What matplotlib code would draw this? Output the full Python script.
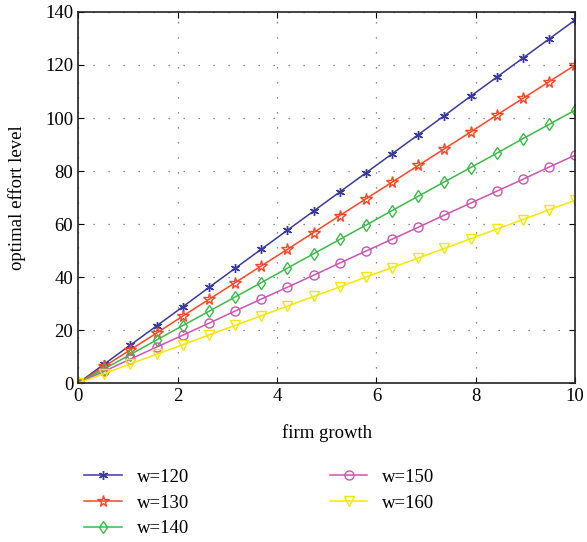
import matplotlib
matplotlib.use("Agg")
import matplotlib.pyplot as plt

x = [0, 0.526, 1.053, 1.579, 2.105, 2.632, 3.158, 3.684, 4.211, 4.737,
     5.263, 5.789, 6.316, 6.842, 7.368, 7.895, 8.421, 8.947, 9.474, 10.0]
y120 = [0, 7.2, 14.4, 21.6, 28.8, 36.1, 43.3, 50.5, 57.7, 64.9, 72.1, 79.3, 86.5, 93.7, 100.9, 108.2, 115.4, 122.6, 129.8, 137.0]
y130 = [0, 6.3, 12.6, 18.9, 25.3, 31.6, 37.9, 44.2, 50.5, 56.8, 63.2, 69.5, 75.8, 82.1, 88.4, 94.7, 101.1, 107.4, 113.7, 120.0]
y140 = [0, 5.4, 10.8, 16.3, 21.7, 27.1, 32.5, 37.9, 43.4, 48.8, 54.2, 59.6, 65.1, 70.5, 75.9, 81.3, 86.7, 92.2, 97.6, 103.0]
y150 = [0, 4.5, 9.1, 13.6, 18.1, 22.6, 27.2, 31.7, 36.2, 40.7, 45.3, 49.8, 54.3, 58.8, 63.4, 67.9, 72.4, 76.9, 81.5, 86.0]
y160 = [0, 3.6, 7.3, 10.9, 14.5, 18.2, 21.8, 25.4, 29.1, 32.7, 36.3, 40.0, 43.6, 47.2, 50.8, 54.5, 58.1, 61.7, 65.4, 69.0]
labels = ["w=120", "w=130", "w=140", "w=150", "w=160"]
xticks = [0, 2, 4, 6, 8, 10]
yticks = [0, 20, 40, 60, 80, 100, 120, 140]

plt.rcParams['font.family'] = ['Liberation Serif', 'DejaVu Serif']
fs = 13.5

fig = plt.figure(figsize=(5.87, 5.42), dpi=100)
ax = fig.add_axes([0.133, 0.293, 0.847, 0.685])

series = [y120, y130, y140, y150, y160]
colors = ["#3a3a9c", "#ff4525", "#3cb94a", "#cc55b0", "#f5e800"]
markers = [(6, 2, 0), "*", "d", "o", "v"]
msizes = [6.5, 8.5, 6.5, 6.5, 6.5]
for ys, c, m, ms, lab in zip(series, colors, markers, msizes, labels):
    ax.plot(x, ys, color=c, marker=m, markersize=ms, markerfacecolor='none',
            markeredgecolor=c, markeredgewidth=1.0, linewidth=1.1, label=lab)

ax.set_xlim(0, 10)
ax.set_ylim(0, 140)
ax.set_xticks(xticks)
ax.set_yticks(yticks)
ax.tick_params(direction='in', labelsize=fs, length=4, width=0.8, top=True, right=True)
ax.grid(True, linestyle=(0, (1, 11)), color='#666666', linewidth=0.9)
for s in ax.spines.values():
    s.set_linewidth(1.2)
    s.set_color('#222222')
ax.set_xlabel("firm growth", fontsize=fs, labelpad=14)
ax.set_ylabel("optimal effort level", fontsize=fs, labelpad=14)

handles, labs = ax.get_legend_handles_labels()
fig.legend(handles, labs, loc='upper left', bbox_to_anchor=(0.115, 1 - 452 / 542),
           ncol=2, frameon=False, fontsize=fs, handlelength=2.0, handletextpad=0.8,
           columnspacing=7.5, labelspacing=0.45)

fig.savefig("out.png", dpi=100)
